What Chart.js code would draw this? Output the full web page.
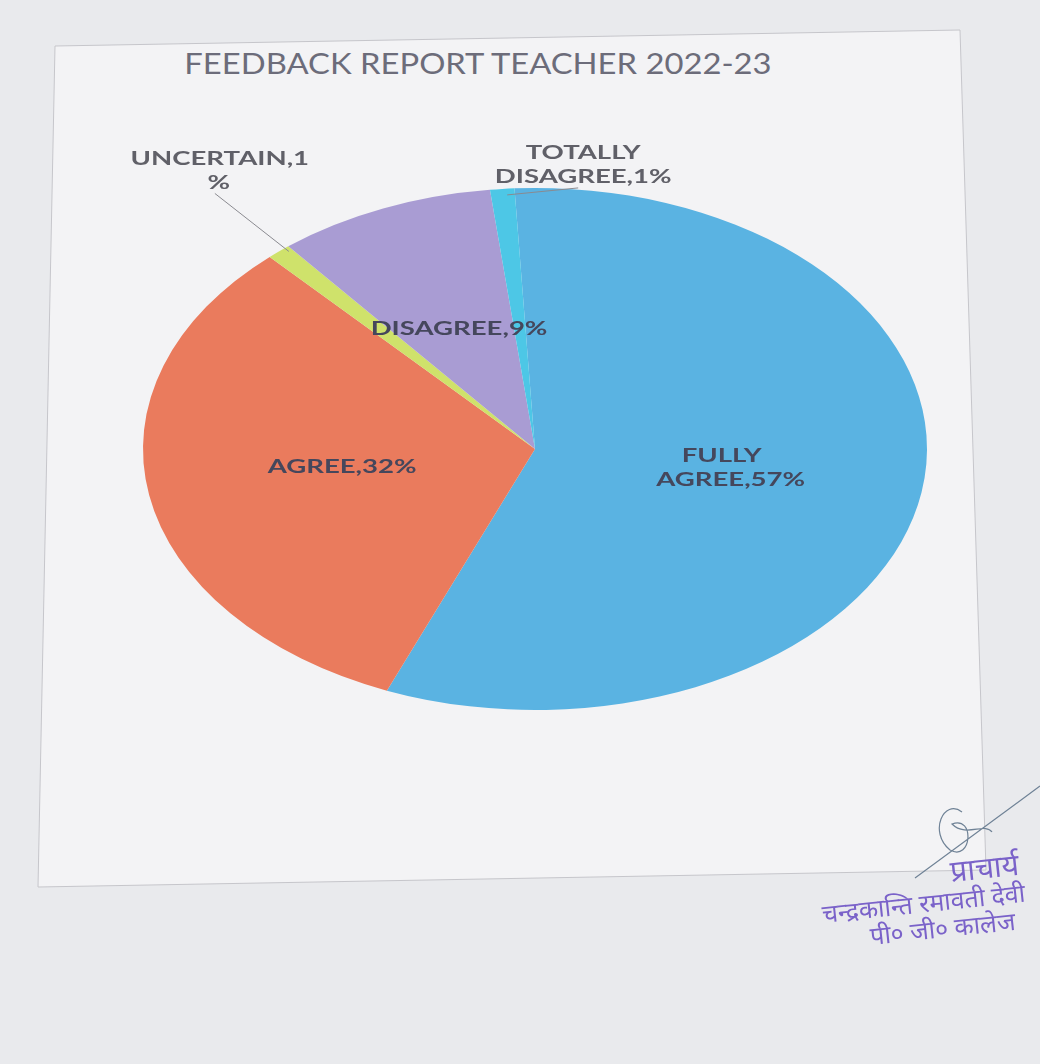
<!DOCTYPE html>
<html>
<head>
<meta charset="utf-8">
<script src="https://cdn.jsdelivr.net/npm/chart.js@4.4.1/dist/chart.umd.min.js"></script>
<style>
    body { margin: 0; background: #E9EAED; }
    #page { position: relative; width: 1040px; height: 1064px; overflow: hidden; }
    #paper { position: absolute; left: 0; top: 0; }
    #title {
        position: absolute; left: 0; width: 956px; top: 46px; text-align: center;
        font: 28px Lato, sans-serif; color: #6C6C7A; transform: scaleX(1.17);
        transform-origin: 478px 0;
    }
    .stamp {
        position: absolute; white-space: nowrap;
        font: 25px "Noto Sans", sans-serif; color: #7A62C9;
        transform: rotate(-6deg); transform-origin: 0 50%;
    }
    canvas { position: absolute; left: 0; top: 0; }
</style>
</head>
<body>
<div id="page">
    <svg id="paper" width="1040" height="1064">
        <polygon points="55,46 960,30 986,870 38,887" fill="#F3F3F5" stroke="#C6C6CB" stroke-width="1"/>
        <path d="M915,878 L1040,786 M962,812 C944,798 928,832 950,850 C972,862 975,815 952,824 C966,838 985,822 992,832"
              fill="none" stroke="#6F8296" stroke-width="1.2"/>
    </svg>
    <div id="title">FEEDBACK REPORT TEACHER 2022-23</div>
    <canvas id="pieChart" width="1040" height="1064"></canvas>
    <div class="stamp" style="left:950px; top:850px; font-size:30px">प्राचार्य</div>
    <div class="stamp" style="left:822px; top:896px">चन्द्रकान्ति रमावती देवी</div>
    <div class="stamp" style="left:870px; top:918px">पी० जी० कालेज</div>
</div>

<script>

/* ==========================================
   DATA
========================================== */

const categories = [
    "FULLY AGREE",
    "AGREE",
    "UNCERTAIN",
    "DISAGREE",
    "TOTALLY DISAGREE"
];

const percents = [57, 32, 1, 9, 1];

const colors = ["#5AB3E2", "#EA7B5D", "#CFE26B", "#A99CD3", "#4DC7E6"];

/* ==========================================
   ELLIPSE (photo is seen at an angle)
========================================== */

const SX = 392 / 261;
const TX = 1.45;   // text is stretched the same way

const ellipse = {
    id: "ellipse",
    beforeDatasetsDraw(chart) {
        const arc = chart.getDatasetMeta(0).data[0];
        const ctx = chart.ctx;
        ctx.save();
        ctx.translate(arc.x, 0);
        ctx.scale(SX, 1);
        ctx.translate(-arc.x, 0);
    },
    afterDatasetsDraw(chart) {
        chart.ctx.restore();
    }
};

/* ==========================================
   DATA LABELS
========================================== */

function wideText(ctx, str, x, y) {
    ctx.save();
    ctx.translate(x, y);
    ctx.scale(TX, 1);
    ctx.fillText(str, 0, 0);
    ctx.restore();
}

function leader(ctx, x1, y1, x2, y2) {
    ctx.strokeStyle = "#8A8A90";
    ctx.lineWidth = 1;
    ctx.beginPath();
    ctx.moveTo(x1, y1);
    ctx.lineTo(x2, y2);
    ctx.stroke();
}

const labels = {
    id: "labels",
    afterDraw(chart) {
        const ctx = chart.ctx;
        const arcs = chart.getDatasetMeta(0).data;
        ctx.save();
        ctx.font = "bold 19px Lato";
        ctx.textAlign = "center";
        ctx.textBaseline = "middle";

        arcs.forEach((arc, i) => {
            const mid = (arc.startAngle + arc.endAngle) / 2;
            const cx = arc.x, cy = arc.y;
            const r = arc.outerRadius;
            const outX = cx + Math.cos(mid) * r * SX;
            const outY = cy + Math.sin(mid) * r;
            const at = k => [cx + Math.cos(mid) * r * k * SX, cy + Math.sin(mid) * r * k];

            ctx.fillStyle = "#45475C";

            if (i === 0) {
                const [x, y] = at(0.47);
                wideText(ctx, "FULLY", x + 5, y - 14);
                wideText(ctx, "AGREE," + percents[i] + "%", x + 14, y + 10);
            } else if (i === 1) {
                const [x, y] = at(0.5);
                wideText(ctx, categories[i] + "," + percents[i] + "%", x, y - 5);
            } else if (i === 3) {
                const [x, y] = at(0.5);
                wideText(ctx, categories[i] + "," + percents[i] + "%", x, y);
            } else if (i === 2) {
                leader(ctx, outX + 10, outY, outX - 64, outY - 58);
                ctx.fillStyle = "#606068";
                wideText(ctx, categories[i] + "," + percents[i], outX - 59, outY - 93);
                wideText(ctx, "%", outX - 60, outY - 69);
            } else {
                leader(ctx, outX + 5, outY + 6, outX + 76, outY - 1);
                ctx.fillStyle = "#606068";
                wideText(ctx, "TOTALLY", outX + 81, outY - 36);
                wideText(ctx, "DISAGREE," + percents[i] + "%", outX + 81, outY - 12);
            }
        });
        ctx.restore();
    }
};

/* ==========================================
   PIE
========================================== */

new Chart(document.getElementById("pieChart"), {

    type: "pie",

    data: {
        labels: categories,
        datasets: [{
            data: percents,
            backgroundColor: colors,
            borderWidth: 0
        }]
    },

    options: {
        responsive: false,
        animation: false,
        rotation: -3,
        layout: {
            padding: { top: 188, bottom: 1064 - 710, left: 535 - 261, right: 1040 - 535 - 261 }
        },
        plugins: {
            legend: { display: false },
            tooltip: { enabled: false }
        }
    },

    plugins: [ellipse, labels]

});

</script>
</body>
</html>
